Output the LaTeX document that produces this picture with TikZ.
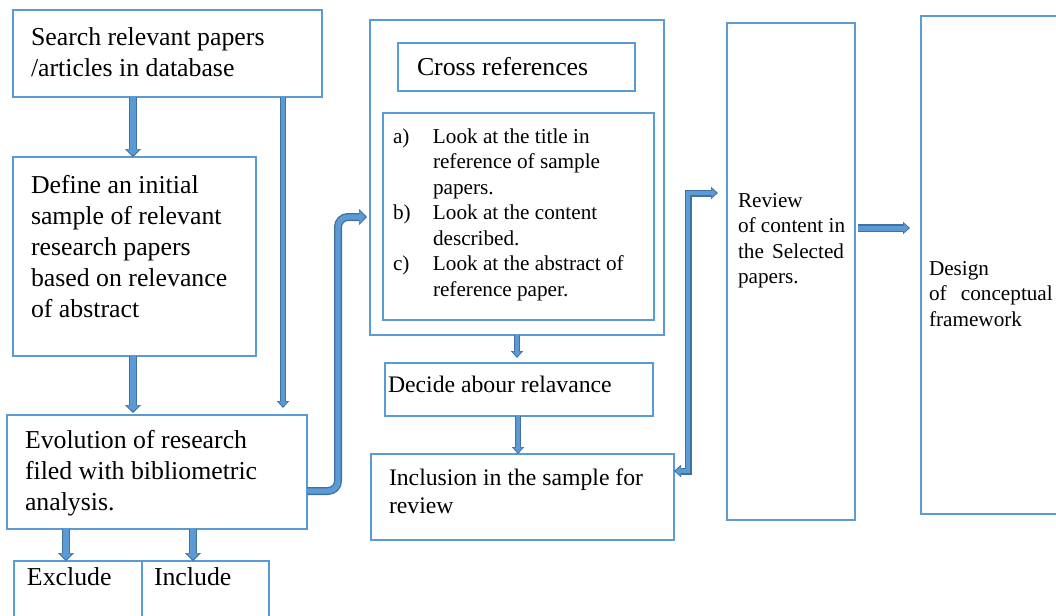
\documentclass[tikz,border=0pt]{standalone}
\usepackage{fontspec}
\setmainfont{Liberation Serif}
\usetikzlibrary{arrows.meta}
\definecolor{bline}{RGB}{91,155,213}
\definecolor{afill}{RGB}{91,155,213}
\definecolor{adark}{RGB}{65,113,156}
\newcommand\fst{\rule{0pt}{0.85em}}
\begin{document}
\begin{tikzpicture}[x=1pt,y=-1pt,
  box/.style={draw=bline, line width=1.8pt, rectangle, inner sep=0pt, outer sep=0pt, anchor=north west},
  txt/.style={inner sep=0pt, outer sep=0pt, align=left, text=black},
  big/.style={font=\fontsize{25.8}{31}\selectfont},
  med/.style={font=\fontsize{23.7}{28.5}\selectfont},
  sml/.style={font=\fontsize{21.2}{25.5}\selectfont},
  arro/.style={draw=adark, line width=8pt, -{Triangle[width=16pt,length=8pt]}},
  arri/.style={draw=afill, line width=5.4pt, -{Triangle[width=12.4pt,length=6pt]}, shorten >=1.6pt},
  thino/.style={draw=adark, line width=6.5pt, -{Triangle[width=12pt,length=7pt]}},
  thini/.style={draw=afill, line width=4pt, -{Triangle[width=8.6pt,length=5pt]}, shorten >=1.5pt},
]
\useasboundingbox (0,0) rectangle (1056,615);

% ---------- boxes ----------
\node[box, minimum width=309pt, minimum height=87pt] (search) at (13,10) {};
\node[box, minimum width=243pt, minimum height=199pt] (define) at (13,157) {};
\node[box, minimum width=300pt, minimum height=114pt] (evol) at (7,415) {};
\node[box, line width=2.6pt, minimum width=128pt, minimum height=80pt] (excl) at (14,561) {};
\node[box, line width=2.6pt, minimum width=127pt, minimum height=80pt] (incl) at (142,561) {};
\node[box, minimum width=294pt, minimum height=315pt] (outer) at (370,20) {};
\node[box, minimum width=237pt, minimum height=48pt] (cross) at (398,43) {};
\node[box, minimum width=271pt, minimum height=207pt] (list) at (383,113) {};
\node[box, minimum width=268pt, minimum height=53pt] (decide) at (385,363) {};
\node[box, minimum width=303pt, minimum height=86pt] (inclusion) at (371,454) {};
\node[box, minimum width=128pt, minimum height=497pt] (review) at (727,23) {};
\node[box, minimum width=160pt, minimum height=498pt] (design) at (921,16) {};

% ---------- texts ----------
\node[txt, big, anchor=north west] (tsearch) at (31,23.1) {\fst Search relevant papers\\/articles in database};
\node[txt, big, anchor=north west] (tdefine) at (31,171.1) {\fst Define an initial\\sample of relevant\\research papers\\based on relevance\\of abstract};
\node[txt, big, anchor=north west] (tevol) at (25,426.1) {\fst Evolution of research\\filed with bibliometric\\analysis.};
\node[txt, big, anchor=base west] (texcl) at (27,585) {Exclude};
\node[txt, big, anchor=base west] (tincl) at (154,585) {Include};
\node[txt, big, anchor=base west] (tcross) at (417,76) {Cross references};
\node[txt, sml, anchor=north west] (tlist) at (393,125) {\fst\makebox[40pt][l]{a)}Look at the title in\\\hspace*{40pt}reference of sample\\\hspace*{40pt}papers.\\\makebox[40pt][l]{b)}Look at the content\\\hspace*{40pt}described.\\\makebox[40pt][l]{c)}Look at the abstract of\\\hspace*{40pt}reference paper.};
\node[txt, med, anchor=base west] (tdecide) at (388,392) {Decide abour relavance};
\node[txt, med, anchor=north west] (tinclusion) at (389,464.9) {\fst Inclusion in the sample for\\review};
\node[txt, sml, anchor=north west] (treview) at (738,189) {\fst Review\\of content in\\the\hspace{3pt} Selected\\papers.};
\node[txt, sml, anchor=north west] (tdesign) at (929,257) {\fst Design\\of\hspace{9pt} conceptual\\framework};

% ---------- connectors ----------
\coordinate (xa) at (133,0);
\coordinate (xb) at (283,0);
\coordinate (xc) at (66,0);
\coordinate (xd) at (193,0);
\coordinate (xe) at (517,0);
\coordinate (xf) at (518,0);
\coordinate (e1) at (338,491);
\coordinate (e2) at (338,217);
\coordinate (r1) at (688,471);
\coordinate (r2) at (688,193);
\coordinate (yr) at (0,228);

% search -> define
\draw[arro] (search.south -| xa) -- (define.north -| xa);
\draw[arri] (search.south -| xa) -- (define.north -| xa);
% search -> evolution (long)
\draw[thino, shorten >=7pt] (search.south -| xb) -- (evol.north -| xb);
\draw[thini, shorten >=8.5pt] (search.south -| xb) -- (evol.north -| xb);
% define -> evolution
\draw[arro, shorten >=2pt] (define.south -| xa) -- (evol.north -| xa);
\draw[arri, shorten >=3.6pt] (define.south -| xa) -- (evol.north -| xa);
% evolution -> exclude / include
\draw[arro] (evol.south -| xc) -- (excl.north -| xc);
\draw[arri] (evol.south -| xc) -- (excl.north -| xc);
\draw[arro] (evol.south -| xd) -- (incl.north -| xd);
\draw[arri] (evol.south -| xd) -- (incl.north -| xd);
% evolution -> cross references block
\draw[arro, rounded corners=10pt, shorten >=3pt] (evol.east |- e1) -- (e1) -- (e2) -- (outer.west |- e2);
\draw[arri, rounded corners=10pt, shorten >=4.6pt] (evol.east |- e1) -- (e1) -- (e2) -- (outer.west |- e2);
% outer -> decide
\draw[thino, shorten >=5pt] (outer.south -| xe) -- (decide.north -| xe);
\draw[thini, shorten >=6.5pt] (outer.south -| xe) -- (decide.north -| xe);
% decide -> inclusion
\draw[thino] (decide.south -| xf) -- (inclusion.north -| xf);
\draw[thini] (decide.south -| xf) -- (inclusion.north -| xf);
% inclusion <-> review
\draw[draw=adark, line width=7pt, {Triangle[width=12pt,length=7pt]}-{Triangle[width=12pt,length=7pt]}, shorten >=9pt, line join=miter]
  (inclusion.east |- r1) -- (r1) -- (r2) -- (review.west |- r2);
\draw[draw=afill, line width=4.6pt, {Triangle[width=8.6pt,length=5pt]}-{Triangle[width=8.6pt,length=5pt]}, shorten >=10.5pt, shorten <=1.5pt, line join=miter]
  (inclusion.east |- r1) -- (r1) -- (r2) -- (review.west |- r2);
% review -> design
\draw[thino, line width=7.5pt, shorten <=3pt, shorten >=11pt] (review.east |- yr) -- (design.west |- yr);
\draw[thini, line width=5pt, shorten <=3pt, shorten >=12.5pt] (review.east |- yr) -- (design.west |- yr);
\end{tikzpicture}
\end{document}
